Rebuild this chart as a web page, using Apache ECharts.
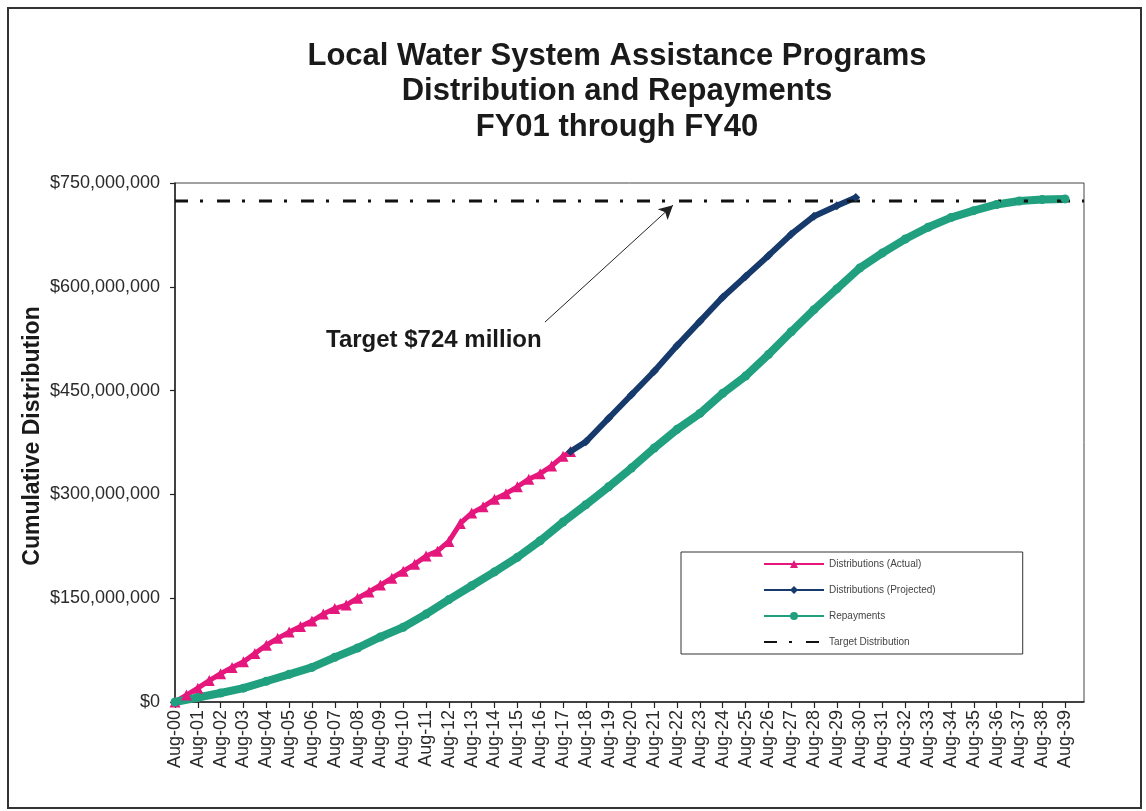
<!DOCTYPE html>
<html>
<head>
<meta charset="utf-8">
<script src="https://cdn.jsdelivr.net/npm/echarts@6/dist/echarts.min.js"></script>
<style>
  html, body { margin: 0; padding: 0; background: #ffffff; }
  #chart { width: 1146px; height: 811px; }
</style>
</head>
<body>
<div id="chart"></div>
<script>
const FONT = '"Liberation Sans", Arial, Helvetica, sans-serif';

// x axis tick labels, one per year (x value = years after Aug 2000)
const tickLabels = [
  'Aug-00','Aug-01','Aug-02','Aug-03','Aug-04','Aug-05','Aug-06','Aug-07','Aug-08','Aug-09',
  'Aug-10','Aug-11','Aug-12','Aug-13','Aug-14','Aug-15','Aug-16','Aug-17','Aug-18','Aug-19',
  'Aug-20','Aug-21','Aug-22','Aug-23','Aug-24','Aug-25','Aug-26','Aug-27','Aug-28','Aug-29',
  'Aug-30','Aug-31','Aug-32','Aug-33','Aug-34','Aug-35','Aug-36','Aug-37','Aug-38','Aug-39'
];
const axisEnd = 39.83;   // end of FY40 (June 2040)

// Cumulative amounts, $ millions
const actualYears = [0,0.5,1,1.5,2,2.5,3,3.5,4,4.5,5,5.5,6,6.5,7,7.5,8,8.5,9,9.5,10,10.5,11,11.5,12,12.5,13,13.5,14,14.5,15,15.5,16,16.5,17,17.33];
const actualValues = [0,10,20,31,41,50,58,70,82,92,101,109,117,127,135,140,150,159,169,179,189,199,211,218,232,258,273,282,293,301,311,322,330,341,355,362];

const projectedYears = [17.33,18,19,20,21,22,23,24,25,26,27,28,29,29.83];
const projectedValues = [362,376,410,444,478,515,550,585,615,645,676,702,717,729];

const repaymentYears = [0,1,2,3,4,5,6,7,8,9,10,11,12,13,14,15,16,17,18,19,20,21,22,23,24,25,26,27,28,29,30,31,32,33,34,35,36,37,38,39];
const repaymentValues = [0,6.5,13,20,30,40,50,64.5,78,94,108,127,148,168,188,209,233,260,285,311,338,367,394,417,446,471,502,535,567,597,627,649,669,686,700,710,719,724,726,727];

const targetValue = 724;

// annotation arrow: tail and head, in (years, $ millions)
const arrowTail = [16.21, 549];
const arrowHead = [21.82, 718];

const pairs = (xs, ys) => xs.map((x, i) => [x, ys[i]]);
const money = v => '$' + Math.round(v * 1e6).toLocaleString('en-US');

const chart = echarts.init(document.getElementById('chart'), null, { renderer: 'canvas' });

chart.setOption({
  animation: false,
  backgroundColor: '#ffffff',
  textStyle: { fontFamily: FONT },
  grid: {
    left: 175, top: 183, right: 62, bottom: 109,
    show: true, borderColor: '#444', borderWidth: 1
  },
  xAxis: {
    type: 'value', min: 0, max: axisEnd, interval: 1,
    axisLine: { show: true, lineStyle: { color: '#222', width: 1.5 } },
    axisTick: { show: true, length: 6, lineStyle: { color: '#222', width: 1.2 } },
    splitLine: { show: false },
    axisLabel: {
      rotate: 90, fontSize: 18, color: '#2a2a2a', fontFamily: FONT, margin: 8,
      showMaxLabel: false,
      formatter: v => tickLabels[Math.round(v)] || ''
    }
  },
  yAxis: {
    type: 'value', min: 0, max: 750, interval: 150,
    axisLine: { show: true, lineStyle: { color: '#222', width: 1.5 } },
    axisTick: { show: true, length: 5, lineStyle: { color: '#222', width: 1.2 } },
    splitLine: { show: false },
    axisLabel: { fontSize: 18, color: '#2a2a2a', fontFamily: FONT, margin: 15, formatter: money }
  },
  legend: {
    orient: 'vertical',
    left: 681, top: 552,
    padding: [7, 87, 7, 82],
    itemWidth: 60, itemHeight: 10, itemGap: 16,
    borderColor: '#333', borderWidth: 1,
    textStyle: { fontSize: 10, color: '#444', fontFamily: FONT },
    data: [
      'Distributions (Actual)',
      'Distributions (Projected)',
      'Repayments',
      { name: 'Target Distribution', itemStyle: { opacity: 0 } }
    ]
  },
  series: [
    {
      name: 'Distributions (Actual)', type: 'line',
      data: pairs(actualYears, actualValues),
      symbol: 'triangle', symbolSize: 11,
      itemStyle: { color: '#e5177d' },
      lineStyle: { color: '#e5177d', width: 5 }
    },
    {
      name: 'Distributions (Projected)', type: 'line',
      data: pairs(projectedYears, projectedValues),
      symbol: 'diamond', symbolSize: 9,
      itemStyle: { color: '#173a6c' },
      lineStyle: { color: '#173a6c', width: 6 }
    },
    {
      name: 'Repayments', type: 'line',
      data: pairs(repaymentYears, repaymentValues),
      symbol: 'circle', symbolSize: 9,
      itemStyle: { color: '#20a07e' },
      lineStyle: { color: '#20a07e', width: 8 }
    },
    {
      name: 'Target Distribution', type: 'line',
      data: [[0, targetValue], [axisEnd, targetValue]],
      symbol: 'none',
      itemStyle: { color: 'rgba(0,0,0,0)', borderWidth: 0 },
      lineStyle: { color: '#111', width: 3, type: [13, 12, 3, 14] },
      markLine: {
        silent: true,
        symbol: ['none', 'arrow'],
        symbolSize: [11, 14],
        label: { show: false },
        lineStyle: { color: '#222', width: 1, type: 'solid' },
        data: [[{ coord: arrowTail }, { coord: arrowHead }]]
      }
    }
  ],
  graphic: [
    {
      type: 'rect', silent: true,
      shape: { x: 8, y: 8, width: 1133, height: 800 },
      style: { fill: 'none', stroke: '#333', lineWidth: 2 }
    },
    {
      type: 'text', x: 617, y: 56,
      style: { text: 'Local Water System Assistance Programs', font: 'bold 31px ' + FONT, fill: '#1a1a1a', align: 'center', verticalAlign: 'middle' }
    },
    {
      type: 'text', x: 617, y: 91,
      style: { text: 'Distribution and Repayments', font: 'bold 31px ' + FONT, fill: '#1a1a1a', align: 'center', verticalAlign: 'middle' }
    },
    {
      type: 'text', x: 617, y: 127,
      style: { text: 'FY01 through FY40', font: 'bold 31px ' + FONT, fill: '#1a1a1a', align: 'center', verticalAlign: 'middle' }
    },
    {
      type: 'text', x: 33, y: 436, rotation: Math.PI / 2,
      style: { text: 'Cumulative Distribution', font: 'bold 23px ' + FONT, fill: '#1a1a1a', align: 'center', verticalAlign: 'middle' }
    },
    {
      type: 'text', x: 326, y: 340,
      style: { text: 'Target $724 million', font: 'bold 24px ' + FONT, fill: '#1a1a1a', align: 'left', verticalAlign: 'middle' }
    }
  ]
});
</script>
</body>
</html>
